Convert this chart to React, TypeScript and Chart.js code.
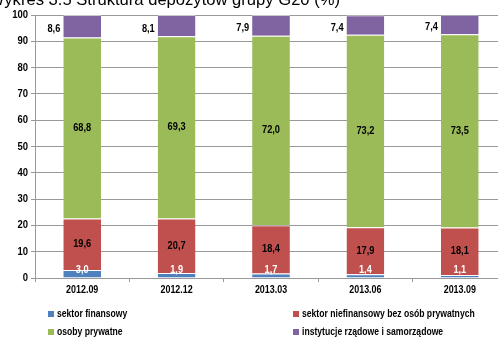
import React, { useEffect, useRef } from "react";
import { Chart, registerables } from "chart.js";

Chart.register(...registerables);

const categories = ["2012.09", "2012.12", "2013.03", "2013.06", "2013.09"];
const sektorFinansowy = [3.0, 1.9, 1.7, 1.4, 1.1];
const sektorNiefinansowy = [19.6, 20.7, 18.4, 17.9, 18.1];
const osobyPrywatne = [68.8, 69.3, 72.0, 73.2, 73.5];
const instytucjeRzadowe = [8.6, 8.1, 7.9, 7.4, 7.4];
const yTicks = [0, 10, 20, 30, 40, 50, 60, 70, 80, 90, 100];

const seriesNames = [
  "sektor finansowy",
  "sektor niefinansowy bez osób prywatnych",
  "osoby prywatne",
  "instytucje rządowe i samorządowe",
];
const seriesColors = ["#4F81BD", "#C0504D", "#9BBB59", "#8064A2"];

const titleText = "Wykres 3.5 Struktura depozytów grupy G20 (%)";

const FONT = "'Liberation Sans', Arial, sans-serif";

const fmt = (v: number) => v.toFixed(1).replace(".", ",");

// narrow bold text: the regular face squeezed horizontally
function narrowText(
  ctx: CanvasRenderingContext2D,
  txt: string,
  x: number,
  y: number,
  align: CanvasTextAlign,
  sx: number
) {
  ctx.save();
  ctx.translate(x, y);
  ctx.scale(sx, 1);
  ctx.textAlign = align;
  ctx.fillText(txt, 0, 0);
  ctx.restore();
}

// axis tick labels
const axisLabels = {
  id: "axisLabels",
  afterDraw(chart: any) {
    const ctx = chart.ctx;
    ctx.save();
    ctx.font = `bold 11px ${FONT}`;
    ctx.textBaseline = "middle";
    ctx.fillStyle = "#000000";
    const ys = chart.scales.y;
    ys.ticks.forEach((t: any) => {
      narrowText(ctx, String(t.value), ys.right - 7, ys.getPixelForValue(t.value), "right", 0.86);
    });
    const xs = chart.scales.x;
    chart.data.labels.forEach((lbl: string, i: number) => {
      narrowText(ctx, lbl, xs.getPixelForTick(i), xs.top + 12, "center", 0.81);
    });
    ctx.restore();
  },
};

// value labels on each segment
const valueLabels = {
  id: "valueLabels",
  afterDatasetsDraw(chart: any) {
    const ctx = chart.ctx;
    ctx.save();
    ctx.font = `bold 11px ${FONT}`;
    ctx.textBaseline = "middle";
    chart.data.datasets.forEach((ds: any, di: number) => {
      const meta = chart.getDatasetMeta(di);
      meta.data.forEach((bar: any, i: number) => {
        const txt = fmt(ds.data[i]);
        if (di === 0) {
          ctx.fillStyle = "#ffffff";
          narrowText(ctx, txt, bar.x, Math.min(bar.y, bar.base - 8), "center", 0.84);
        } else if (di === 3) {
          ctx.fillStyle = "#000000";
          narrowText(ctx, txt, bar.x - bar.width / 2 - 3, (bar.y + bar.base) / 2 + 3, "right", 0.84);
        } else {
          ctx.fillStyle = "#000000";
          narrowText(ctx, txt, bar.x, (bar.y + bar.base) / 2, "center", 0.84);
        }
      });
    });
    ctx.restore();
  },
};

// two-column legend under the axis, plus the heading at the top edge
const bottomLegend = {
  id: "bottomLegend",
  afterDraw(chart: any) {
    const ctx = chart.ctx;
    ctx.save();
    const cols = [48, 293];
    const rows = [314, 332];
    ctx.font = `bold 10.5px ${FONT}`;
    ctx.textBaseline = "middle";
    chart.data.datasets.forEach((ds: any, i: number) => {
      const x = cols[i % 2];
      const y = rows[Math.floor(i / 2)];
      ctx.fillStyle = ds.backgroundColor;
      ctx.fillRect(x, y - 3, 6, 6);
      ctx.fillStyle = "#000000";
      narrowText(ctx, ds.label, x + 9, y, "left", 0.82);
    });
    ctx.font = `16.6px ${FONT}`;
    ctx.textAlign = "right";
    ctx.textBaseline = "alphabetic";
    ctx.fillStyle = "#000000";
    ctx.fillText(titleText, 340, 5);
    ctx.restore();
  },
};

export default function App() {
  const canvasRef = useRef<HTMLCanvasElement | null>(null);

  useEffect(() => {
    if (!canvasRef.current) return;
    const series = [sektorFinansowy, sektorNiefinansowy, osobyPrywatne, instytucjeRzadowe];
    const chart = new Chart(canvasRef.current, {
      type: "bar",
      data: {
        labels: categories,
        datasets: series.map((data, i) => ({
          label: seriesNames[i],
          data,
          backgroundColor: seriesColors[i],
          borderColor: "rgba(255,255,255,0.45)",
          borderWidth: { top: 1, left: 0, right: 0, bottom: 0 },
          borderSkipped: "start",
          categoryPercentage: 1,
          barPercentage: 0.4,
        })),
      },
      options: {
        animation: false,
        responsive: false,
        maintainAspectRatio: false,
        layout: { padding: { top: 15, left: 0, right: 0, bottom: 0 } },
        plugins: {
          legend: { display: false },
          tooltip: { enabled: false },
          title: { display: false },
        },
        scales: {
          x: {
            stacked: true,
            afterFit: (s: any) => {
              s.height = 60;
            },
            grid: {
              offset: true,
              drawOnChartArea: false,
              drawTicks: true,
              tickLength: 4,
              color: "#999999",
            },
            border: { display: true, color: "#999999" },
            ticks: { display: false },
          },
          y: {
            stacked: true,
            min: 0,
            max: 100,
            afterFit: (s: any) => {
              s.width = 35;
            },
            afterBuildTicks: (s: any) => {
              s.ticks = yTicks.map((v) => ({ value: v }));
            },
            grid: {
              color: "#999999",
              tickLength: 4,
            },
            border: { display: true, color: "#999999" },
            ticks: { display: false },
          },
        },
      },
      plugins: [valueLabels, axisLabels, bottomLegend],
    } as any);
    return () => chart.destroy();
  }, []);

  return (
    <div
      style={{
        position: "absolute",
        left: 0,
        top: 0,
        width: 498,
        height: 338,
        overflow: "hidden",
        background: "#ffffff",
      }}
    >
      <canvas ref={canvasRef} width={507} height={338} style={{ display: "block" }} />
    </div>
  );
}
